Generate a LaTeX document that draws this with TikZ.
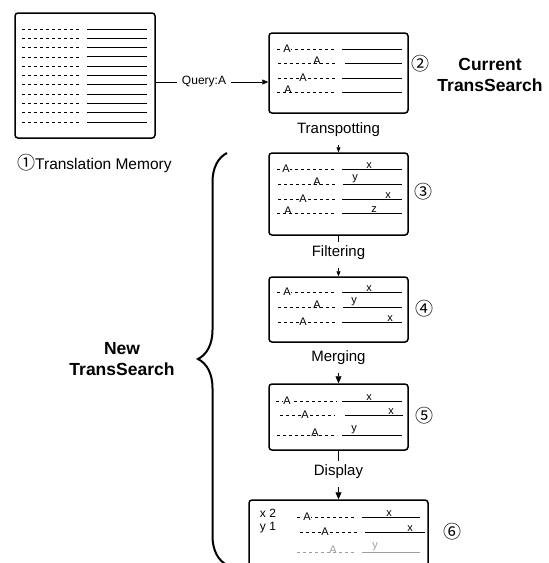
\documentclass[tikz,border=0pt]{standalone}
\usepackage{fontspec}
\setmainfont{Liberation Sans}
\newfontfamily\cjk{Noto Sans CJK JP}
\usetikzlibrary{arrows.meta,decorations.pathreplacing}
\definecolor{faded}{gray}{0.62}

\tikzset{
  box/.style={draw, line width=1.5pt, rounded corners=3pt, inner sep=0pt},
  src/.style={line width=0.8pt, dash pattern=on 3.4pt off 2.6pt},
  tgt/.style={line width=0.9pt},
  tok/.style={fill=white, inner sep=0.7pt, font=\fontsize{11}{11}\selectfont},
  tokx/.style={inner sep=0pt, yshift=2.2pt, font=\fontsize{11}{11}\selectfont},
  word/.style={anchor=south, inner sep=0.6pt, font=\fontsize{11}{11}\selectfont},
  num/.style={inner sep=0pt, font=\cjk\fontsize{18}{18}\selectfont},
  stage/.style={inner sep=4pt, font=\fontsize{15}{15}\selectfont},
  title/.style={align=center, font=\bfseries\fontsize{17.5}{21}\selectfont},
  flow/.style={-{Triangle[length=5pt,width=4pt]}, line width=0.6pt, shorten <=4pt},
  bigflow/.style={-{Triangle[length=7pt,width=6pt]}, line width=0.6pt, shorten <=4pt}
}

\begin{document}
\begin{tikzpicture}[x=1pt,y=-1pt]
    \useasboundingbox (0,0) rectangle (549,563);
    \clip (0,0) rectangle (549,563);

    % Translation Memory
    \node[box, minimum width=140pt, minimum height=125pt] (tm) at (85,75.5) {};
    \foreach \r in {0,...,10} {
      \draw[src] (22,{29+9.3*\r}) -- (82,{29+9.3*\r});
      \draw[tgt] (87,{29+9.3*\r}) -- (147,{29+9.3*\r});
    }
    \node[anchor=west, inner sep=0pt, font=\fontsize{15.5}{16}\selectfont] (tmlabel) at (17,163) {{\cjk\fontsize{18}{18}\selectfont ①}Translation Memory};

    % Current TransSearch
    \node[box, minimum width=139pt, minimum height=80pt] (b2) at (338.5,73) {};
    \draw[src] (277,49) -- (336,49); \draw[tgt] (342,49) -- (402,49);
    \node[tok] (a21) at (287,49) {A};
    \draw[src] (278,63) -- (336,63); \draw[tgt] (345,63) -- (402,63);
    \node[tokx] (a22) at (317,63) {A};
    \draw[src] (278,78) -- (336,78); \draw[tgt] (342,78) -- (402,78);
    \node[tok] (a23) at (303,78) {A};
    \draw[src] (277,92) -- (336,92); \draw[tgt] (342,92) -- (402,92);
    \node[tokx] (a24) at (288,92) {A};
    \node[num] (n2) at (420,64) {②};
    \node[title] (current) at (490,75) {Current\\TransSearch};

    % Query
    \node[inner sep=5pt, font=\fontsize{12}{12}\selectfont] (qry) at (204,82) {Query:A};
    \draw[line width=0.6pt] (tm.east |- qry) -- (qry);
    \draw[-{Triangle[length=6pt,width=5pt]}, line width=0.6pt] (qry) -- (b2.west |- qry);

    % Transpotting
    \node[box, minimum width=139pt, minimum height=82pt] (b3) at (338.5,194) {};
    \draw[src] (277,169) -- (336,169); \draw[tgt] (342,169) -- (402,169);
    \node[tok] (a31) at (286,169) {A};
    \node[word] (w31) at (369,169) {x};
    \draw[src] (278,184) -- (336,184); \draw[tgt] (343,184) -- (402,184);
    \node[tokx] (a32) at (317,184) {A};
    \node[word] (w32) at (355,184) {y};
    \draw[src] (278,199) -- (336,199); \draw[tgt] (342,199) -- (402,199);
    \node[tok] (a33) at (303,199) {A};
    \node[word] (w33) at (388,199) {x};
    \draw[src] (277,213) -- (336,213); \draw[tgt] (342,213) -- (402,213);
    \node[tokx] (a34) at (288,213) {A};
    \node[word] (w34) at (374,213) {z};
    \node[num] (n3) at (423,192) {③};

    % Filtering
    \node[box, minimum width=139pt, minimum height=65pt] (b4) at (338.5,309.5) {};
    \draw[src] (277,292) -- (336,292); \draw[tgt] (342,292) -- (402,292);
    \node[tok] (a41) at (287,292) {A};
    \node[word] (w41) at (369,292) {x};
    \draw[src] (278,307) -- (336,307); \draw[tgt] (343,307) -- (402,307);
    \node[tokx] (a42) at (317,307) {A};
    \node[word] (w42) at (354,307) {y};
    \draw[src] (278,322) -- (336,322); \draw[tgt] (342,322) -- (402,322);
    \node[tok] (a43) at (303,322) {A};
    \node[word] (w43) at (390,322) {x};
    \node[num] (n4) at (424,309) {④};

    % Merging
    \node[box, minimum width=139pt, minimum height=66pt] (b5) at (338.5,417) {};
    \draw[src] (276,401) -- (337,401); \draw[tgt] (342,401) -- (402,401);
    \node[tok] (a51) at (287,401) {A};
    \node[word] (w51) at (369,401) {x};
    \draw[src] (280,415) -- (335,415); \draw[tgt] (345,415) -- (403,415);
    \node[tok] (a52) at (305,415) {A};
    \node[word] (w52) at (391,415) {x};
    \draw[src] (277,435) -- (337,435); \draw[tgt] (342,435) -- (402,435);
    \node[tokx] (a53) at (315,435) {A};
    \node[word] (w53) at (354,435) {y};
    \node[num] (n5) at (424,416) {⑤};

    % Display
    \node[box, minimum width=179pt, minimum height=90pt] (b6) at (338.5,545) {};
    \node[font=\fontsize{12}{12}\selectfont, inner sep=0pt] (c1) at (268,513) {x 2};
    \node[font=\fontsize{12}{12}\selectfont, inner sep=0pt] (c2) at (268,528) {y 1};
    \draw[src] (297,517) -- (357,517); \draw[tgt] (362,517) -- (420,517);
    \node[tok] (a61) at (307,517) {A};
    \node[word] (w61) at (389,517) {x};
    \draw[src] (300,532) -- (358,532); \draw[tgt] (365,532) -- (425,532);
    \node[tok] (a62) at (325,532) {A};
    \node[word] (w62) at (410,532) {x};
    \draw[src, faded] (297,552) -- (357,552); \draw[tgt, faded] (362,552) -- (420,552);
    \node[tokx, text=faded] (a63) at (333,552) {A};
    \node[word, text=faded] (w63) at (375,552) {y};
    \node[num] (n6) at (452,532) {⑥};

    % Steps between the boxes
    \node[stage] (trans) at (338.5,130) {Transpotting};
    \node[stage] (filt) at (338.5,253) {Filtering};
    \node[stage] (merge) at (338.5,358) {Merging};
    \node[stage] (disp) at (338.5,472) {Display};
    \draw[flow] (trans) -- (b3);
    \draw[line width=0.6pt] (b3) -- (filt);
    \draw[flow] (filt) -- (b4);
    \draw[bigflow] (merge) -- (b5);
    \draw[line width=0.6pt] (b5) -- (disp);
    \draw[bigflow] (disp) -- (b6);

    % New TransSearch
    \coordinate (braceend) at (227,565);
    \coordinate (bracetop) at (227,153);
    \draw[line width=2pt, decorate, decoration={brace, amplitude=29pt}] (braceend) -- (bracetop);
    \node[title] (new) at (122,359) {New\\TransSearch};

\end{tikzpicture}
\end{document}
